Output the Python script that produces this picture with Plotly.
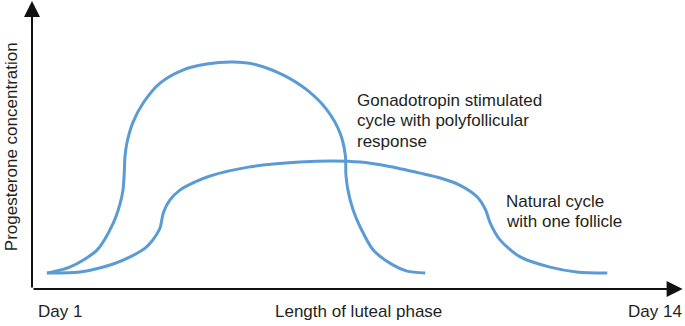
import plotly.graph_objects as go

# Relative time through the luteal phase (0-100) and relative progesterone level (0-100)
stim_x = [2.3, 5.8, 10.0, 12.5, 13.5, 14.0, 14.2, 14.3, 14.6, 15.5, 17.1, 19.7, 23.2, 26.9, 30.9,
          34.6, 38.6, 42.3, 45.4, 47.4, 48.2, 48.3, 48.6, 49.4, 50.5, 52.5, 55.5, 57.7, 60.5]
stim_y = [5.6, 7.7, 13.7, 23.2, 29.6, 34.9, 41.2, 46.5, 51.4, 58.5, 65.5, 72.5, 77.1, 79.2, 79.9,
          78.9, 75.4, 70.1, 63.0, 54.9, 47.2, 40.1, 34.9, 27.8, 21.8, 13.7, 8.5, 6.3, 5.6]

nat_x = [2.3, 7.4, 12.5, 15.1, 17.4, 18.6, 19.7, 20.2, 21.2, 22.8, 25.1, 27.4, 33.5, 41.2, 46.3,
         50.5, 54.6, 59.7, 62.8, 65.8, 68.5, 69.8, 70.5, 72.0, 75.1, 79.7, 83.8, 88.5]
nat_y = [5.6, 6.0, 8.8, 11.3, 14.4, 17.3, 21.5, 26.8, 31.3, 34.9, 37.7, 39.8, 43.0, 44.7, 45.1,
         44.7, 43.3, 40.8, 39.1, 36.6, 32.4, 27.8, 23.2, 17.3, 11.3, 7.7, 6.0, 5.6]

x_tick_labels = ["Day 1", "Length of luteal phase", "Day 14"]
x_tick_pos = [0.043, 0.502, 0.958]
y_label = "Progesterone concentration"
stim_label = ["Gonadotropin stimulated", "cycle with polyfollicular", "response"]
nat_label = ["Natural cycle", "with one follicle"]

BLUE = "#5b9bd5"
FONT = "Liberation Sans, Arial, sans-serif"
TXT = "#231f20"

fig = go.Figure()
fig.add_trace(go.Scatter(x=stim_x, y=stim_y, mode="lines", line=dict(color=BLUE, width=3, shape="spline", smoothing=0.8),
                         hoverinfo="skip", showlegend=False))
fig.add_trace(go.Scatter(x=nat_x, y=nat_y, mode="lines", line=dict(color=BLUE, width=3, shape="spline", smoothing=0.8),
                         hoverinfo="skip", showlegend=False))

ann = []
# axes with arrows
ann.append(dict(x=0, y=101.4, ax=0, ay=0, xref="x", yref="y", axref="x", ayref="y", text="",
                showarrow=True, arrowhead=2, arrowsize=1.6, arrowwidth=2, arrowcolor="#111"))
ann.append(dict(x=100.1, y=0, ax=0, ay=0, xref="x", yref="y", axref="x", ayref="y", text="",
                showarrow=True, arrowhead=2, arrowsize=1.6, arrowwidth=2, arrowcolor="#111"))

f = dict(family=FONT, size=17, color=TXT)
for t, xx in zip(x_tick_labels, x_tick_pos):
    ann.append(dict(x=xx, y=-0.079, xref="paper", yref="paper", text=t, showarrow=False, font=f,
                    xanchor="center", yanchor="middle"))
ann.append(dict(x=-0.032, y=0.5, xref="paper", yref="paper", text=y_label, textangle=-90, showarrow=False,
                font=f, xanchor="center", yanchor="middle"))
for t, yy in zip(stim_label, [66.5, 59.2, 52.1]):
    ann.append(dict(x=49.7, y=yy, xref="x", yref="y", text=t, showarrow=False, font=f,
                    xanchor="left", yanchor="middle"))
for t, yy in zip(nat_label, [30.7, 23.7]):
    ann.append(dict(x=72.6, y=yy, xref="x", yref="y", text=t, showarrow=False, font=f,
                    xanchor="left", yanchor="middle"))

fig.update_layout(
    width=685, height=326,
    margin=dict(l=32, r=3, t=5, b=37),
    paper_bgcolor="white", plot_bgcolor="white",
    xaxis=dict(range=[0, 100], visible=False, fixedrange=True),
    yaxis=dict(range=[0, 100], visible=False, fixedrange=True),
    annotations=ann,
    showlegend=False,
)
fig.write_html("out.html", config={"displayModeBar": False},
               post_script="document.body.style.margin='0';document.body.style.overflow='hidden';")
